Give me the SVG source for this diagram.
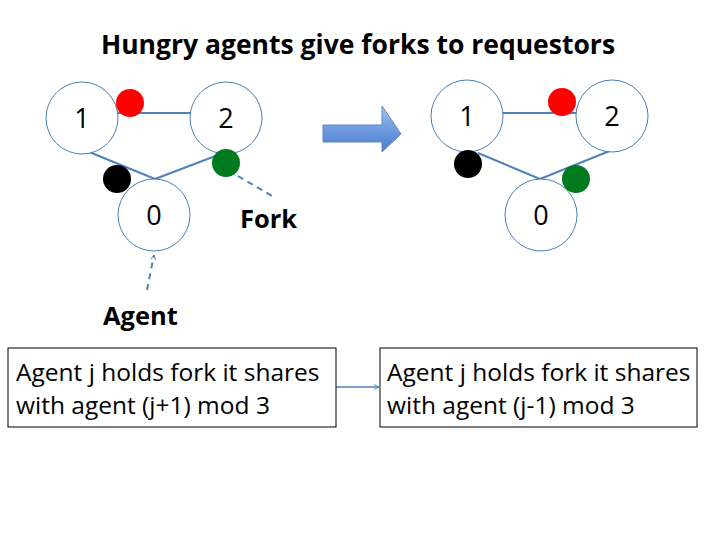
<svg xmlns="http://www.w3.org/2000/svg" width="720" height="540" viewBox="0 0 720 540">
<defs>
<linearGradient id="bg" x1="0" y1="0" x2="0" y2="1">
<stop offset="0" stop-color="#a9c4eb"/>
<stop offset="0.5" stop-color="#6f9be0"/>
<stop offset="1" stop-color="#4a7ccc"/>
</linearGradient>
<marker id="ah" viewBox="0 0 10 10" refX="9" refY="5" markerWidth="6" markerHeight="6" orient="auto" markerUnits="userSpaceOnUse">
<path d="M1,1 L9,5 L1,9" fill="none" stroke="#4f81bd" stroke-width="1.5"/>
</marker>
</defs>
<style>
.agent{fill:#fff;stroke:#4a7ebb;stroke-width:1}
.num{font-family:"Open Sans","Liberation Sans",sans-serif;font-size:27px;fill:#000;text-anchor:middle}
.edge{stroke:#4f81bd;stroke-width:2;fill:none}
.dash{stroke:#4f81bd;stroke-width:2;fill:none;stroke-dasharray:6,5}
.lbl{font-family:"Open Sans","Liberation Sans",sans-serif;font-weight:bold;font-size:25.5px;fill:#000}
.box{fill:#fff;stroke:#000;stroke-width:1}
.btxt{font-family:"Open Sans","Liberation Sans",sans-serif;font-size:24.5px;fill:#000}
</style>
<rect width="720" height="540" fill="#fff"/>
<text x="358" y="54" text-anchor="middle" style="font-family:'Open Sans','Liberation Sans',sans-serif;font-weight:bold;font-size:26.5px">Hungry agents give forks to requestors</text>

<g id="connectors">
<line class="edge" x1="118" y1="113" x2="190" y2="113"/>
<line class="edge" x1="82" y1="149" x2="155" y2="179"/>
<line class="edge" x1="218" y1="155" x2="155" y2="179"/>
<line class="edge" x1="503" y1="113" x2="577" y2="113"/>
<line class="edge" x1="478" y1="153" x2="540" y2="179"/>
<line class="edge" x1="612" y1="150" x2="540" y2="179"/>
<line class="dash" x1="238" y1="176" x2="272" y2="196"/>
<line class="dash" x1="147" y1="290" x2="154" y2="255" marker-end="url(#ah)"/>
<line stroke="#4f81bd" stroke-width="1.5" x1="336" y1="387" x2="379" y2="387" marker-end="url(#ah)"/>
</g>

<g id="agent1-left"><circle class="agent" cx="82" cy="118" r="36"/><text class="num" x="82" y="128">1</text></g>
<g id="agent2-left"><circle class="agent" cx="226" cy="118" r="36"/><text class="num" x="226" y="128">2</text></g>
<g id="agent0-left"><circle class="agent" cx="154" cy="215" r="36"/><text class="num" x="154" y="225">0</text></g>
<g id="forks-left">
<circle cx="130" cy="103" r="14" fill="#ff0000"/>
<circle cx="117" cy="179" r="14" fill="#000"/>
<circle cx="226" cy="163" r="14" fill="#007a1e"/>
</g>

<g id="agent1-right"><circle class="agent" cx="467" cy="116" r="36"/><text class="num" x="467" y="126">1</text></g>
<g id="agent2-right"><circle class="agent" cx="612" cy="116" r="36"/><text class="num" x="612" y="126">2</text></g>
<g id="agent0-right"><circle class="agent" cx="541" cy="215" r="36"/><text class="num" x="541" y="225">0</text></g>
<g id="forks-right">
<circle cx="562" cy="102" r="14" fill="#ff0000"/>
<circle cx="468" cy="164" r="14" fill="#000"/>
<circle cx="576" cy="179" r="14" fill="#007a1e"/>
</g>

<g id="big-arrow">
<path d="M323,125 L382,125 L382,106 L401,134 L382,152 L382,142 L323,142 Z" fill="url(#bg)" stroke="#5b87c8" stroke-width="1"/>
</g>

<g id="label-fork"><text class="lbl" x="240" y="228">Fork</text></g>
<g id="label-agent"><text class="lbl" x="103" y="325">Agent</text></g>

<g id="box-left">
<rect class="box" x="8" y="348" width="328" height="79"/>
<text class="btxt" x="16" y="381">Agent j holds fork it shares</text>
<text class="btxt" x="16" y="414">with agent (j+1) mod 3</text>
</g>
<g id="box-right">
<rect class="box" x="380" y="348" width="317" height="79"/>
<text class="btxt" x="387" y="381">Agent j holds fork it shares</text>
<text class="btxt" x="387" y="414">with agent (j-1) mod 3</text>
</g>
</svg>
